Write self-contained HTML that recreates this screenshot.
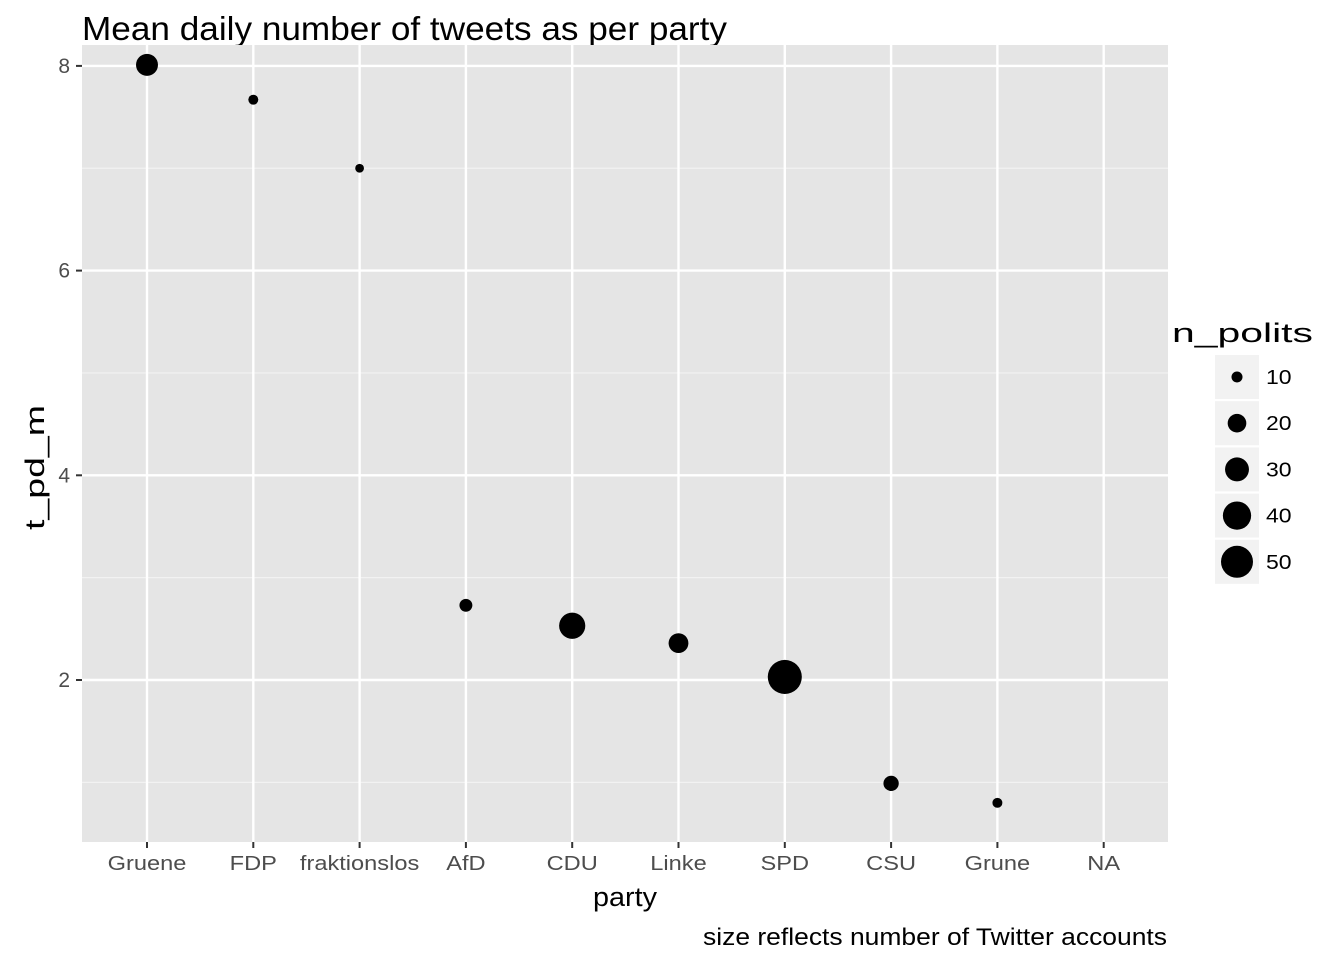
<!DOCTYPE html>
<html><head><meta charset="utf-8"><style>
body{margin:0;background:#fff;font-family:"Liberation Sans",Arial,sans-serif}
svg text{font-family:"Liberation Sans",Arial,sans-serif}
</style></head><body>
<svg id="chart" width="1344" height="960" xmlns="http://www.w3.org/2000/svg">
<text x="82" y="40" font-size="33" fill="#000" textLength="645" lengthAdjust="spacingAndGlyphs">Mean daily number of tweets as per party</text>
<rect x="82" y="45" width="1086" height="797" fill="#e5e5e5"/>
<g id="grid"></g>
<g id="points"></g>
<g id="axes"></g>
<text x="593" y="906" font-size="27" textLength="64" lengthAdjust="spacingAndGlyphs">party</text>
<text transform="translate(44,530) rotate(-90)" font-size="27" textLength="125" lengthAdjust="spacingAndGlyphs">t_pd_m</text>
<text x="703" y="945" font-size="24" textLength="464" lengthAdjust="spacingAndGlyphs">size reflects number of Twitter accounts</text>
<g id="legend">
<text x="1172" y="342" font-size="27" textLength="141" lengthAdjust="spacingAndGlyphs">n_polits</text>
</g>
</svg>
<script>
const categories=["Gruene","FDP","fraktionslos","AfD","CDU","Linke","SPD","CSU","Grune","NA"];
const values=[8.01,7.67,7.0,2.73,2.53,2.36,2.03,0.99,0.8,null];
const counts=[26,9,8,12,35,22,56,15,9,null];
const yTicks=[2,4,6,8];
const yMinor=[1,3,5,7];
const legendValues=[10,20,30,40,50];
const NS="http://www.w3.org/2000/svg";
const xs=i=>147+i*106.3;
const ys=v=>884.7-v*102.35;
const rs=n=>Math.sqrt(Math.max(4,-26+5.64*n));
function mk(t,a,p){const e=document.createElementNS(NS,t);for(const k in a)e.setAttribute(k,a[k]);document.getElementById(p).appendChild(e);return e;}
function widen(el,f){const w=el.getComputedTextLength()*f;el.setAttribute('textLength',w);el.setAttribute('lengthAdjust','spacingAndGlyphs');}
yMinor.forEach(v=>{const l=mk('line',{x1:82,x2:1168,y1:ys(v),y2:ys(v),stroke:'#f2f2f2','stroke-width':1.2},'grid');

});
yTicks.forEach(v=>{const l=mk('line',{x1:82,x2:1168,y1:ys(v),y2:ys(v),stroke:'#fff','stroke-width':2.4},'grid');


const t=mk('line',{x1:76,x2:82,y1:ys(v),y2:ys(v),stroke:'#333','stroke-width':2},'axes');


const tx=mk('text',{x:70,y:ys(v)+7,'font-size':21,'text-anchor':'end',fill:'#4d4d4d'},'axes');tx.textContent=v;

});
categories.forEach((c,i)=>{const l=mk('line',{x1:xs(i),x2:xs(i),y1:45,y2:842,stroke:'#fff','stroke-width':2.4},'grid');


const t=mk('line',{x1:xs(i),x2:xs(i),y1:842,y2:848,stroke:'#333','stroke-width':2},'axes');


const tx=mk('text',{x:xs(i),y:870,'font-size':20,'text-anchor':'middle',fill:'#4d4d4d'},'axes');tx.textContent=c;


widen(tx,1.18);
if(values[i]!=null){const p=mk('circle',{cx:xs(i),cy:ys(values[i]),r:rs(counts[i]),fill:'#000'},'points');

}});
legendValues.forEach((n,i)=>{const cy=377+i*46.2;
const b=mk('rect',{x:1215,y:cy-22,width:44,height:44,fill:'#f2f2f2'},'legend');


const c=mk('circle',{cx:1237,cy:cy,r:rs(n),fill:'#000'},'legend');


const t=mk('text',{x:1266,y:cy+7,'font-size':20},'legend');t.textContent=n;


widen(t,1.15);});
</script>
</body></html>
